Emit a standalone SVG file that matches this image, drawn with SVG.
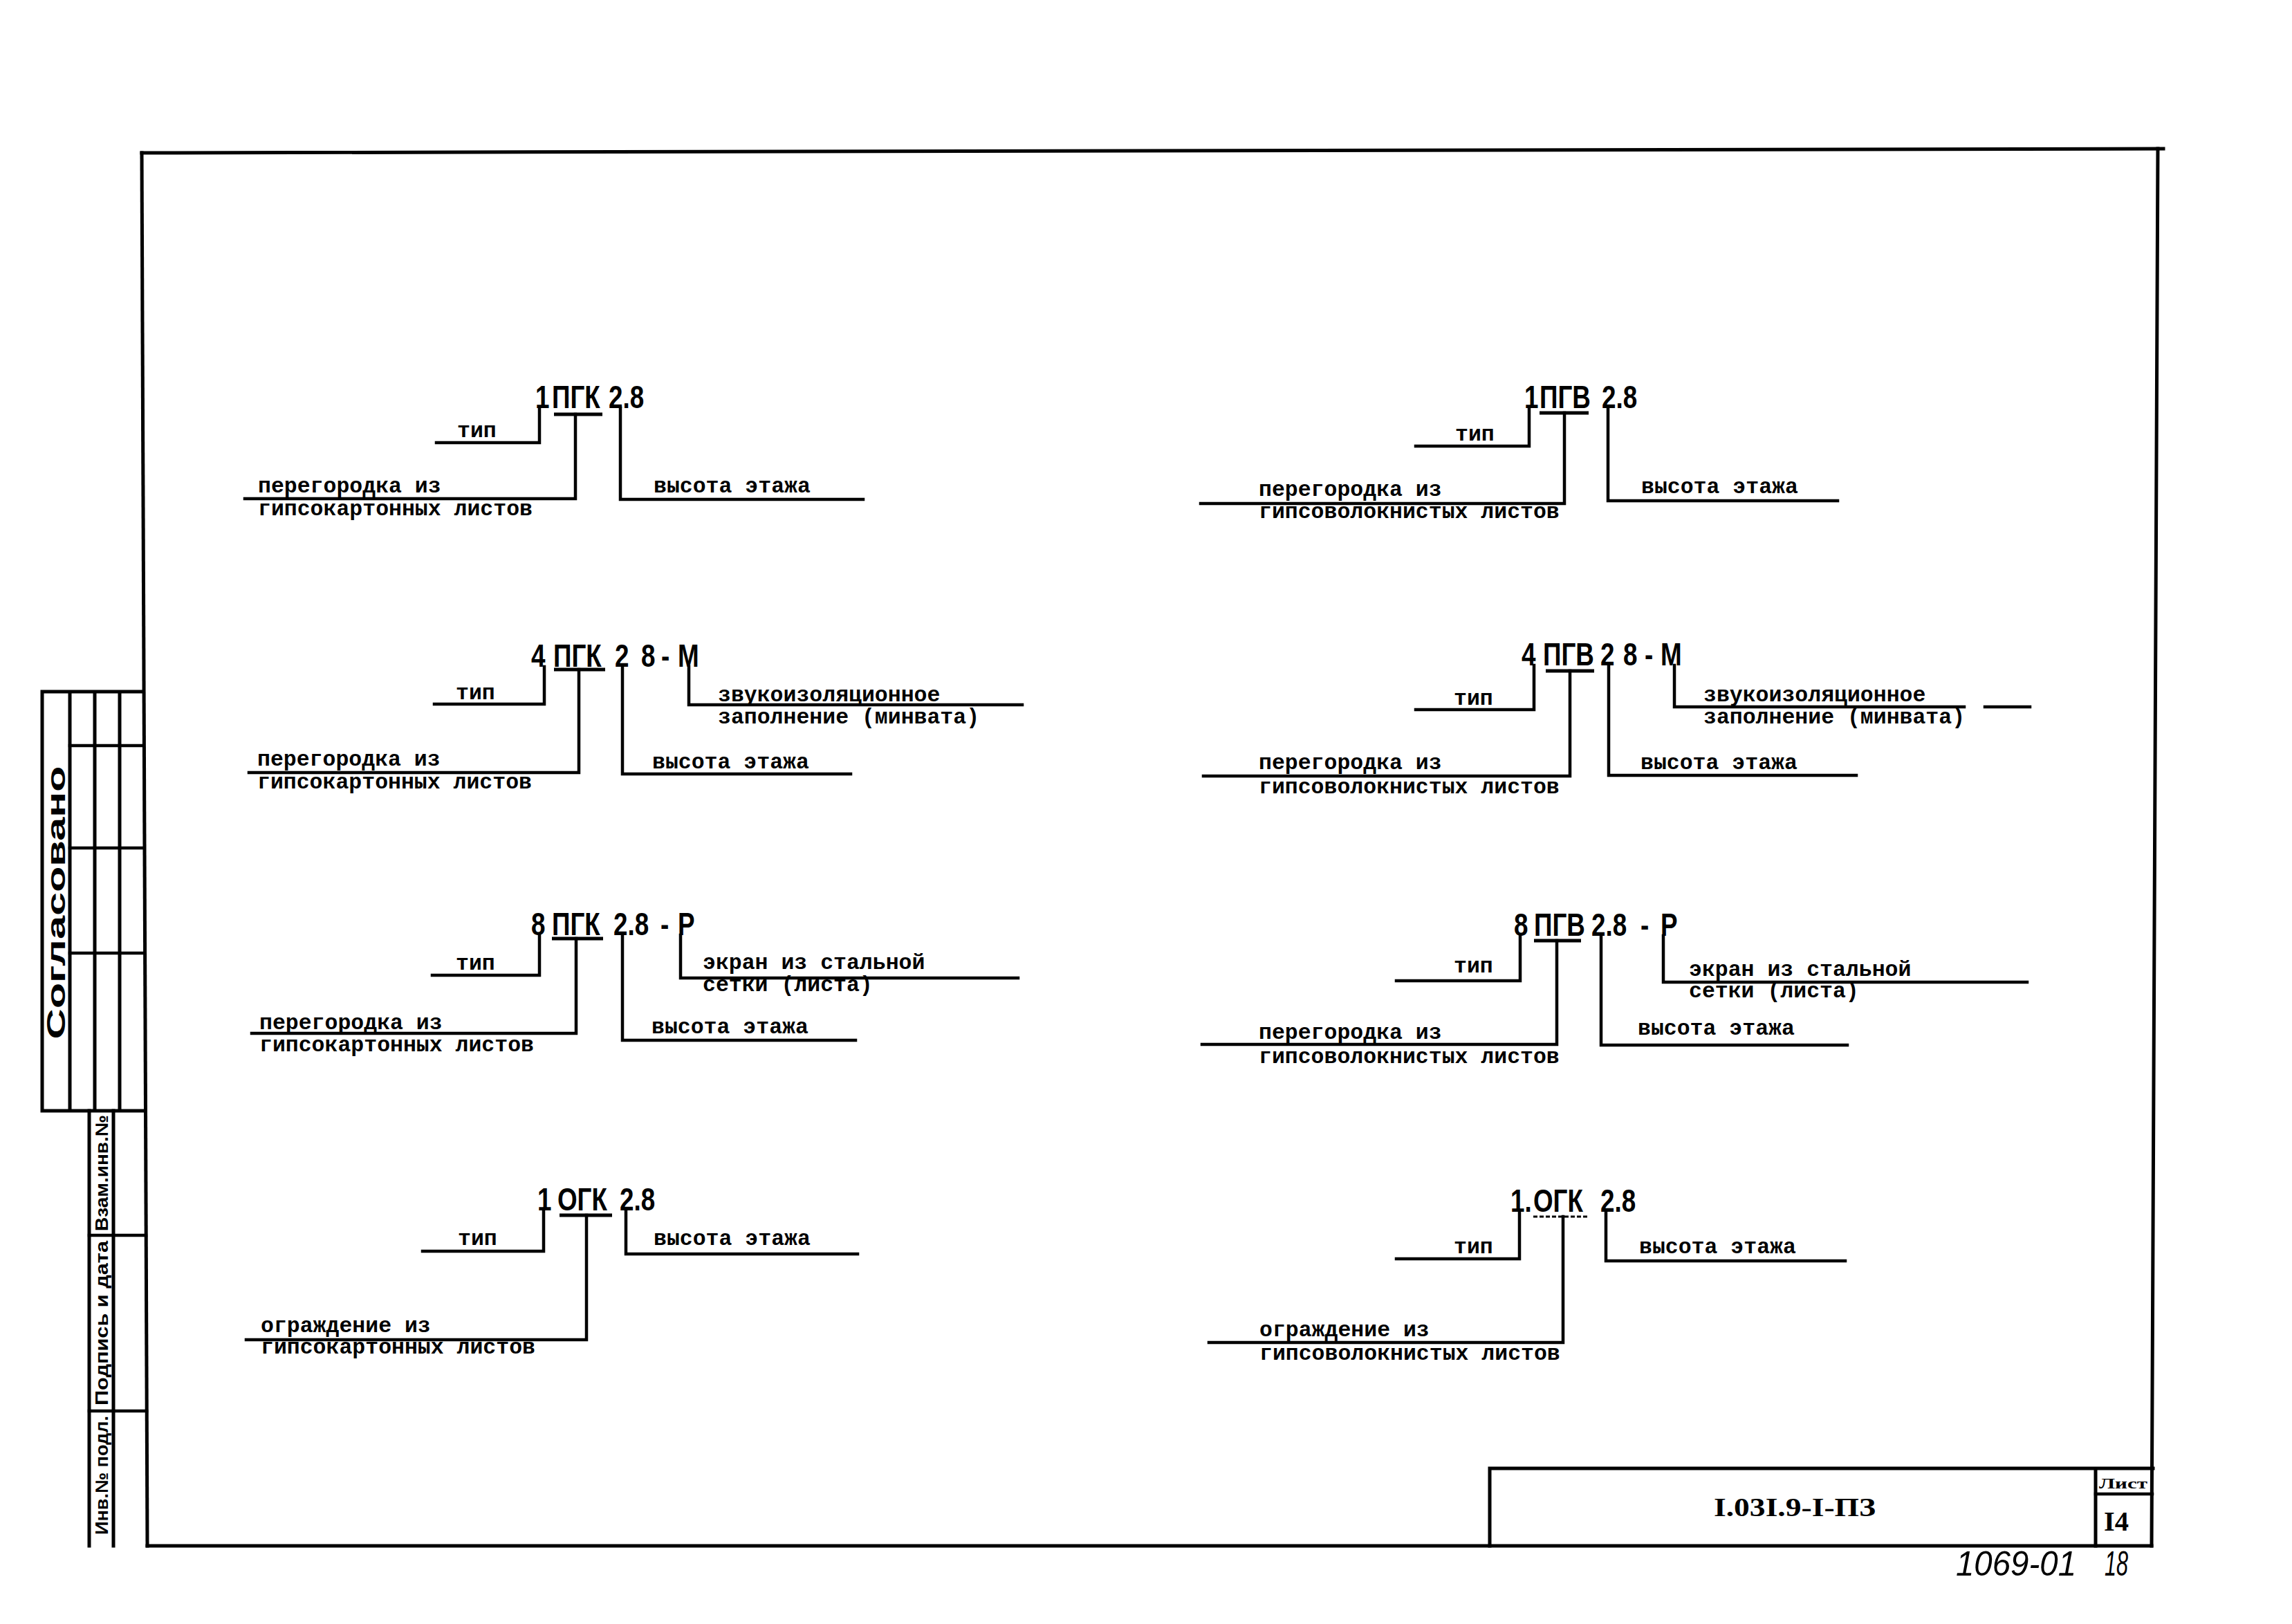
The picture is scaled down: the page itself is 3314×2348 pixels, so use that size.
<svg xmlns="http://www.w3.org/2000/svg" width="3314" height="2348" viewBox="0 0 3314 2348">
<style>
.ln{stroke:#000;stroke-width:4.5;fill:none;stroke-linecap:square;stroke-linejoin:miter}
.fr{stroke:#000;stroke-width:5;fill:none;stroke-linecap:square}
.ul{stroke:#000;stroke-width:5;fill:none}
.code{font-family:"Liberation Sans",Arial,sans-serif;font-weight:bold;font-size:46px;fill:#000}
.lbl{font-family:"Liberation Mono","Courier New",monospace;font-weight:bold;font-size:31.5px;fill:#000}
.stamp{font-family:"Liberation Sans",Arial,sans-serif;font-weight:bold;fill:#000}
.tb{font-family:"Liberation Serif","Times New Roman",serif;font-weight:bold;fill:#000}
.hw{font-family:"Liberation Sans",Arial,sans-serif;font-style:italic;fill:#000}
</style>
<rect width="3314" height="2348" fill="#fff"/>

<g id="frame">
<path class="fr" d="M205,221 L3128,215"/>
<path class="fr" d="M3120,215 L3111,2235"/>
<path class="fr" d="M205,221 L213,2235"/>
<path class="fr" d="M213,2235 L3111,2235"/>
</g>

<g id="stamp-agreed">
<path class="fr" d="M61,1000 H207 M61,1000 V1606 H209 M101,1000 V1606 M137,1000 V1606 M173,1000 V1606"/>
<path class="ln" d="M101,1078 H207 M101,1226 H208 M101,1378 H208"/>
<text class="stamp" font-size="36" text-anchor="middle" transform="translate(81,1305) rotate(-90)" y="13" textLength="395" lengthAdjust="spacingAndGlyphs">Согласовано</text>
</g>

<g id="stamp-inv">
<path class="fr" d="M129,1606 V2235 M164,1606 V2235"/>
<path class="ln" d="M129,1786 H211 M129,2040 H212"/>
<text class="stamp" font-size="26" text-anchor="middle" transform="translate(147,1696) rotate(-90)" y="9" textLength="168" lengthAdjust="spacingAndGlyphs">Взам.инв.№</text>
<text class="stamp" font-size="26" text-anchor="middle" transform="translate(147,1913) rotate(-90)" y="9" textLength="238" lengthAdjust="spacingAndGlyphs">Подпись и дата</text>
<text class="stamp" font-size="26" text-anchor="middle" transform="translate(147,2133) rotate(-90)" y="9" textLength="172" lengthAdjust="spacingAndGlyphs">Инв.№ подл.</text>
</g>

<g id="title-block">
<path class="fr" d="M2154,2235 V2123 H3113 M3030,2123 V2235"/>
<path class="ln" d="M3030,2160 H3112"/>
<text class="tb" font-size="38" x="2478" y="2192" textLength="234" lengthAdjust="spacingAndGlyphs">I.03I.9-I-ПЗ</text>
<text class="tb" font-size="22" x="3035" y="2152" textLength="70" lengthAdjust="spacingAndGlyphs">Лист</text>
<text class="tb" font-size="40" x="3042" y="2213" textLength="36" lengthAdjust="spacingAndGlyphs">I4</text>
</g>

<g id="sheet-number">
<text class="hw" font-size="50" x="2828" y="2278" textLength="174" lengthAdjust="spacingAndGlyphs">1069-01</text>
<text class="hw" font-size="50" x="3043" y="2278" textLength="34" lengthAdjust="spacingAndGlyphs">18</text>
</g>

<g id="d1-1PGK">
<text class="code" transform="scale(0.8,1)" y="590"><tspan x="967.5">1</tspan><tspan x="997.5">ПГК</tspan><tspan x="1100">2.8</tspan></text>
<path class="ul" d="M801,599 H871"/>
<text class="lbl" x="661" y="632">тип</text>
<text class="lbl" x="373" y="712">перегородка из</text>
<text class="lbl" x="373" y="745">гипсокартонных листов</text>
<text class="lbl" x="945" y="712">высота этажа</text>
</g>

<g id="d2-1PGV">
<text class="code" transform="scale(0.8,1)" y="590"><tspan x="2755">1</tspan><tspan x="2782.5">ПГВ</tspan><tspan x="2895">2.8</tspan></text>
<path class="ul" d="M2226,597 H2297"/>
<text class="lbl" x="2104" y="637">тип</text>
<text class="lbl" x="1820" y="717">перегородка из</text>
<text class="lbl" x="1820" y="749">гипсоволокнистых листов</text>
<text class="lbl" x="2373" y="713">высота этажа</text>
</g>

<g id="d3-4PGK">
<text class="code" transform="scale(0.8,1)" y="964"><tspan x="960">4</tspan><tspan x="1000">ПГК</tspan><tspan x="1111.25">2</tspan><tspan x="1158.75">8</tspan><tspan x="1195">-</tspan><tspan x="1225">М</tspan></text>
<path class="ul" d="M801,968 H875"/>
<text class="lbl" x="659" y="1011">тип</text>
<text class="lbl" x="372" y="1107">перегородка из</text>
<text class="lbl" x="372" y="1140">гипсокартонных листов</text>
<text class="lbl" x="943" y="1111">высота этажа</text>
<text class="lbl" x="1038" y="1014">звукоизоляционное</text>
<text class="lbl" x="1038" y="1046">заполнение (минвата)</text>
</g>

<g id="d4-4PGV">
<text class="code" transform="scale(0.8,1)" y="962"><tspan x="2750">4</tspan><tspan x="2788.75">ПГВ</tspan><tspan x="2892.5">2</tspan><tspan x="2933.75">8</tspan><tspan x="2972.5">-</tspan><tspan x="3001.25">М</tspan></text>
<path class="ul" d="M2235,970 H2305"/>
<text class="lbl" x="2102" y="1019">тип</text>
<text class="lbl" x="1820" y="1112">перегородка из</text>
<text class="lbl" x="1820" y="1147">гипсоволокнистых листов</text>
<text class="lbl" x="2372" y="1112">высота этажа</text>
<text class="lbl" x="2463" y="1014">звукоизоляционное</text>
<text class="lbl" x="2463" y="1046">заполнение (минвата)</text>
</g>

<g id="d5-8PGK">
<text class="code" transform="scale(0.8,1)" y="1352"><tspan x="960">8</tspan><tspan x="997.5">ПГК</tspan><tspan x="1108.75">2.8</tspan><tspan x="1193.75">-</tspan><tspan x="1225">Р</tspan></text>
<path class="ul" d="M798,1357 H872"/>
<text class="lbl" x="659" y="1402">тип</text>
<text class="lbl" x="375" y="1488">перегородка из</text>
<text class="lbl" x="375" y="1520">гипсокартонных листов</text>
<text class="lbl" x="942" y="1494">высота этажа</text>
<text class="lbl" x="1016" y="1401">экран из стальной</text>
<text class="lbl" x="1016" y="1433">сетки (листа)</text>
</g>

<g id="d6-8PGV">
<text class="code" transform="scale(0.8,1)" y="1353"><tspan x="2736.25">8</tspan><tspan x="2772.5">ПГВ</tspan><tspan x="2876.25">2.8</tspan><tspan x="2965">-</tspan><tspan x="3001.25">Р</tspan></text>
<path class="ul" d="M2218,1360 H2286"/>
<text class="lbl" x="2102" y="1406">тип</text>
<text class="lbl" x="1820" y="1502">перегородка из</text>
<text class="lbl" x="1820" y="1537">гипсоволокнистых листов</text>
<text class="lbl" x="2368" y="1496">высота этажа</text>
<text class="lbl" x="2442" y="1411">экран из стальной</text>
<text class="lbl" x="2442" y="1442">сетки (листа)</text>
</g>

<g id="d7-1OGK">
<text class="code" transform="scale(0.8,1)" y="1750"><tspan x="971.25">1</tspan><tspan x="1007.5">ОГК</tspan><tspan x="1120">2.8</tspan></text>
<path class="ul" d="M809,1757 H885"/>
<text class="lbl" x="662" y="1800">тип</text>
<text class="lbl" x="377" y="1926">ограждение из</text>
<text class="lbl" x="377" y="1957">гипсокартонных листов</text>
<text class="lbl" x="945" y="1800">высота этажа</text>
</g>

<g id="d8-1OGK">
<text class="code" transform="scale(0.8,1)" y="1752"><tspan x="2730">1.</tspan><tspan x="2771.25">ОГК</tspan><tspan x="2892.5">2.8</tspan></text>
<path d="M2217,1759 H2296" stroke="#000" stroke-width="3" stroke-dasharray="6 3" fill="none"/>
<text class="lbl" x="2102" y="1812">тип</text>
<text class="lbl" x="1821" y="1932">ограждение из</text>
<text class="lbl" x="1821" y="1966">гипсоволокнистых листов</text>
<text class="lbl" x="2370" y="1812">высота этажа</text>
</g>

<g id="connectors">
<path class="ln" d="M780,590 V640 H631"/>
<path class="ln" d="M832,599 V721 H354"/>
<path class="ln" d="M897,590 V722 H1248"/>

<path class="ln" d="M2211,592 V645 H2047"/>
<path class="ln" d="M2262,597 V728 H1736"/>
<path class="ln" d="M2325,592 V724 H2657"/>

<path class="ln" d="M787,964 V1018 H628"/>
<path class="ln" d="M837,968 V1117 H360"/>
<path class="ln" d="M900,964 V1119 H1230"/>
<path class="ln" d="M996,964 V1019 H1478"/>

<path class="ln" d="M2218,962 V1026 H2047"/>
<path class="ln" d="M2270,970 V1122 H1740"/>
<path class="ln" d="M2326,962 V1121 H2684"/>
<path class="ln" d="M2421,962 V1022 H2840 M2870,1022 H2935"/>

<path class="ln" d="M780,1352 V1410 H625"/>
<path class="ln" d="M833,1357 V1494 H364"/>
<path class="ln" d="M900,1352 V1504 H1237"/>
<path class="ln" d="M984,1352 V1414 H1472"/>

<path class="ln" d="M2198,1353 V1418 H2019"/>
<path class="ln" d="M2251,1360 V1510 H1738"/>
<path class="ln" d="M2315,1353 V1511 H2671"/>
<path class="ln" d="M2405,1353 V1420 H2931"/>

<path class="ln" d="M786,1750 V1809 H611"/>
<path class="ln" d="M848,1757 V1937 H356"/>
<path class="ln" d="M905,1750 V1813 H1240"/>

<path class="ln" d="M2197,1752 V1820 H2019"/>
<path class="ln" d="M2260,1759 V1941 H1748"/>
<path class="ln" d="M2322,1752 V1823 H2668"/>
</g>
</svg>
